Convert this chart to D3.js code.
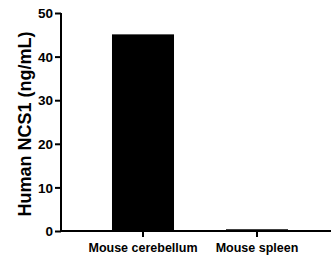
<!DOCTYPE html>
<html><head><meta charset="utf-8">
<script src="https://cdn.jsdelivr.net/npm/d3@7"></script>
<style>body{margin:0;background:#fff}svg{display:block}text{font-family:Arial,"Liberation Sans",sans-serif;font-weight:bold}</style>
</head><body>
<script>
const categories = ["Mouse cerebellum", "Mouse spleen"];
const values = [45.1, 0.4];
const yTicks = [0, 10, 20, 30, 40, 50];
const yTitle = "Human NCS1 (ng/mL)";

const W = 331, H = 262;
const svg = d3.select("body").append("svg").attr("width", W).attr("height", H);
const y = d3.scaleLinear().domain([0, 50]).range([231, 13]);
const x = d3.scaleBand().domain(categories).range([86, 314]).paddingInner(0.456).paddingOuter(0.228);

svg.selectAll("rect.bar").data(values).enter().append("rect")
  .attr("x", (d, i) => x(categories[i]))
  .attr("width", x.bandwidth())
  .attr("y", d => y(d))
  .attr("height", d => y(0) - y(d))
  .attr("fill", "#000");

const ya = svg.append("g").attr("transform", "translate(61,0)")
  .call(d3.axisLeft(y).tickValues(yTicks).tickSize(6).tickPadding(2).tickFormat(d3.format("d")));
ya.attr("font-family", null).attr("font-size", null);
ya.select(".domain").attr("stroke-width", 2).attr("d", `M0,${y(50)}V${y(0)+1}`);
ya.selectAll(".tick line").attr("stroke-width", 2);
ya.selectAll(".tick text").attr("font-size", 13.5).attr("fill", "#000").attr("dy", "0.35em");

const xa = svg.append("g").attr("transform", `translate(0,${y(0)})`)
  .call(d3.axisBottom(x).tickSize(6).tickPadding(6));
xa.attr("font-family", null).attr("font-size", null);
xa.select(".domain").attr("stroke-width", 2).attr("d", `M60,0H331`);
xa.selectAll(".tick line").attr("stroke-width", 2);
xa.selectAll(".tick text").attr("font-size", 12.5).attr("fill", "#000");

svg.append("text").attr("transform", `translate(25,124) rotate(-90)`)
  .attr("text-anchor", "middle").attr("dy", "0.35em").attr("font-size", 18).text(yTitle);
</script>
</body></html>
